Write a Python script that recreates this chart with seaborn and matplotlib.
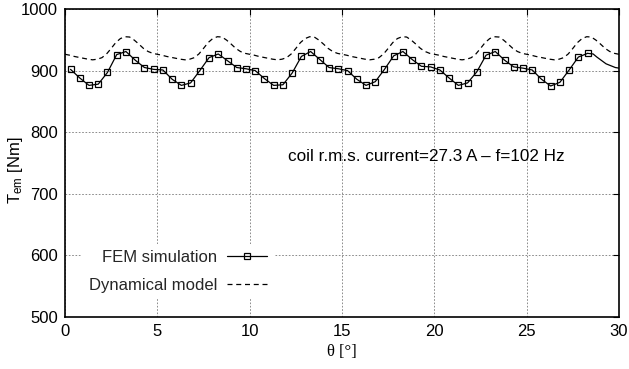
import numpy as np
import pandas as pd
import matplotlib
matplotlib.use("Agg")
import matplotlib.pyplot as plt
import seaborn as sns
from matplotlib.lines import Line2D

# ---------------- data ----------------
fem_theta = [0.3, 0.8, 1.3, 1.8, 2.3, 2.8, 3.3, 3.8, 4.3, 4.8,
             5.3, 5.8, 6.3, 6.8, 7.3, 7.8, 8.3, 8.8, 9.3, 9.8,
             10.3, 10.8, 11.3, 11.8, 12.3, 12.8, 13.3, 13.8, 14.3, 14.8,
             15.3, 15.8, 16.3, 16.8, 17.3, 17.8, 18.3, 18.8, 19.3, 19.8,
             20.3, 20.8, 21.3, 21.8, 22.3, 22.8, 23.3, 23.8, 24.3, 24.8,
             25.3, 25.8, 26.3, 26.8, 27.3, 27.8, 28.3]
fem_torque = [902, 888, 876, 878, 897, 926, 931, 917, 905, 902,
              901, 886, 876, 880, 900, 921, 927, 916, 905, 903,
              900, 887, 876, 877, 896, 923, 931, 918, 905, 903,
              900, 886, 876, 882, 902, 924, 931, 918, 907, 906,
              901, 888, 876, 880, 898, 925, 931, 917, 906, 904,
              901, 886, 875, 881, 901, 922, 928]
fem_tail_theta = [28.3, 28.6, 28.8, 29.3, 29.8, 30.0]
fem_tail_torque = [928, 927, 922, 911, 905, 904]

dyn_theta = [i * 0.25 for i in range(121)]
dyn_torque = [
    926.5, 925, 923, 921.5, 920, 918.5, 917.5, 918.5, 921, 927, 936, 945.5, 952, 955, 954.5, 949.5, 943, 936, 931, 928,
    926.5, 925, 923, 921.5, 920, 918.5, 917.5, 918.5, 921, 927, 936, 945.5, 952, 955, 954.5, 949.5, 943, 936, 931, 928,
    926.5, 925, 923, 921.5, 920, 918.5, 917.5, 918.5, 921, 927, 936, 945.5, 952, 955, 954.5, 949.5, 943, 936, 931, 928,
    926.5, 925, 923, 921.5, 920, 918.5, 917.5, 918.5, 921, 927, 936, 945.5, 952, 955, 954.5, 949.5, 943, 936, 931, 928,
    926.5, 925, 923, 921.5, 920, 918.5, 917.5, 918.5, 921, 927, 936, 945.5, 952, 955, 954.5, 949.5, 943, 936, 931, 928,
    926.5, 925, 923, 921.5, 920, 918.5, 917.5, 918.5, 921, 927, 936, 945.5, 952, 955, 954.5, 949.5, 943, 936, 931, 928,
    926.5]

x_ticks = [0, 5, 10, 15, 20, 25, 30]
y_ticks = [500, 600, 700, 800, 900, 1000]

# ---------------- style ----------------
sns.set_theme(style="white")
plt.rcParams['font.family'] = ['Liberation Sans', 'DejaVu Sans']
plt.rcParams['mathtext.fontset'] = 'custom'
plt.rcParams['mathtext.rm'] = 'Liberation Sans'
plt.rcParams['mathtext.it'] = 'Liberation Sans'

fig = plt.figure(figsize=(6.29, 3.69), dpi=100)
ax = fig.add_axes([65 / 629, 1 - 317 / 369, 554 / 629, 308 / 369])

df_dyn = pd.DataFrame({"theta": dyn_theta, "torque": dyn_torque})
df_fem = pd.DataFrame({"theta": fem_theta, "torque": fem_torque})
df_tail = pd.DataFrame({"theta": fem_tail_theta, "torque": fem_tail_torque})

sns.lineplot(data=df_dyn, x="theta", y="torque", ax=ax, color="black",
             linewidth=0.9, linestyle=(0, (4, 3)), zorder=3)
sns.lineplot(data=df_tail, x="theta", y="torque", ax=ax, color="black",
             linewidth=0.9, zorder=3)
sns.lineplot(data=df_fem, x="theta", y="torque", ax=ax, color="black",
             linewidth=0.9, marker="s", markersize=4.6, markerfacecolor="none",
             markeredgecolor="black", markeredgewidth=0.9, zorder=4)

ax.set_xlim(0, 30)
ax.set_ylim(500, 1000)
ax.set_xticks(x_ticks)
ax.set_yticks(y_ticks)
ax.set_xticklabels([str(t) for t in x_ticks])
ax.set_yticklabels([str(t) for t in y_ticks])
ax.tick_params(axis="both", direction="in", length=4, width=0.8, labelsize=12,
               top=True, right=True, colors="black", pad=5)
ax.grid(True, color="#7a7a7a", linestyle=(0, (2, 2)), linewidth=0.6)
ax.set_axisbelow(True)
for s in ax.spines.values():
    s.set_color("black")
    s.set_linewidth(1.2)

ax.set_xlabel("θ [°]", family=["Liberation Serif", "DejaVu Serif"], fontsize=12,
              labelpad=4, color="black")
ax.set_ylabel(r"T$_{\rm em}$ [Nm]", fontsize=12, color="black")
ax.yaxis.set_label_coords(-0.072, 0.477)

ax.text(12.05, 761, "coil r.m.s. current=27.3 A \u2013 f=102 Hz", fontsize=12.3,
        ha="left", va="center", color="black")

handles = [
    Line2D([], [], color="black", linewidth=0.9, marker="s", markersize=4.6,
           markerfacecolor="none", markeredgecolor="black", markeredgewidth=0.9),
    Line2D([], [], color="black", linewidth=0.9, linestyle=(0, (4, 3))),
]
leg = ax.legend(handles, ["FEM simulation", "Dynamical model"], loc="lower left",
                bbox_to_anchor=(0.016, 0.03), markerfirst=False, frameon=True,
                fontsize=12, handlelength=2.4, handletextpad=0.6,
                labelspacing=0.75, borderpad=0.4, fancybox=False)
leg.get_frame().set_facecolor("white")
leg.get_frame().set_edgecolor("none")
leg.get_frame().set_alpha(1.0)
leg.set_zorder(5)

fig.savefig("out.png", dpi=100)
